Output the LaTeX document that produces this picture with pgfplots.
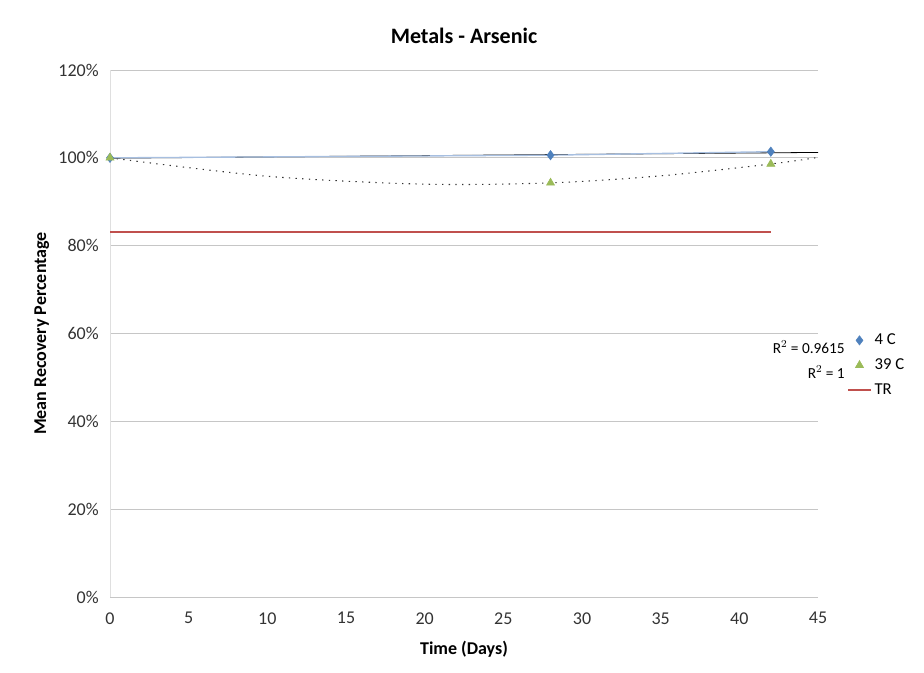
\documentclass[border=0pt]{standalone}
\usepackage{pgfplots}
\pgfplotsset{compat=1.18}
\usepackage{fontspec}
\setmainfont{Carlito}
\definecolor{cblue}{HTML}{4F81BD}
\definecolor{clblue}{HTML}{A7BFE0}
\definecolor{cgreen}{HTML}{9BBB59}
\definecolor{cred}{HTML}{C0504D}
\begin{document}
\begin{tikzpicture}[x=1pt,y=1pt]
\path (0,0) rectangle (693,504);
\begin{axis}[
  at={(82.5pt,56.25pt)}, anchor=south west,
  scale only axis, width=531pt, height=395.25pt,
  xmin=0, xmax=45, ymin=0, ymax=120,
  xtick={0,5,...,45}, ytick={0,20,...,120},
  yticklabel={\pgfmathprintnumber{\tick}\%},
  /pgf/number format/assume math mode=true,
  ymajorgrids, grid style={gray!45, line width=0.5pt},
  axis x line*=bottom, axis y line*=left,
  axis line style={gray!25},
  x axis line style={draw=none},
  tick style={draw=none},
  tick label style={font=\fontsize{13.5}{15}\selectfont, text=black!80},
  xticklabel style={yshift=-8pt},
  yticklabel style={xshift=-5pt},
  title={\textbf{Metals - Arsenic}},
  title style={font=\fontsize{16.5}{19}\selectfont, yshift=10pt},
  xlabel={\textbf{Time (Days)}},
  ylabel={\textbf{Mean Recovery Percentage}},
  label style={font=\fontsize{13.5}{15}\selectfont},
  xlabel style={yshift=-6pt},
  ylabel style={yshift=0pt},
  clip=false,
  legend style={at={(1.035,0.44)}, anchor=west, draw=none, fill=none,
    font=\fontsize{12.5}{14}\selectfont, row sep=5pt,
    /tikz/every even column/.append style={column sep=2pt}},
  legend cell align=left,
]
% trendlines
\addplot[black, line width=0.6pt, forget plot] coordinates {(0,99.92) (45,101.23)};
\addplot[black!80, dash pattern=on 1pt off 4pt, line width=0.8pt, smooth, forget plot] coordinates {
 (0,100) (10,95.8) (20,94.0) (28,94.3) (35,95.9) (42,98.6) (45,100.1)};
% 4C connecting line
\addplot[clblue, line width=1pt, forget plot] coordinates {(0,100) (28,100.6) (42,101.4)};
\addplot[only marks, mark=diamond*, mark size=3.5pt, color=cblue] coordinates {(0,100) (28,100.6) (42,101.4)};
\addlegendentry{4 C}
\addplot[only marks, mark=triangle*, mark size=3.5pt, color=cgreen] coordinates {(0,100) (28,94.3) (42,98.6)};
\addlegendentry{39 C}
\addplot[cred, line width=1.6pt] coordinates {(0,83.1) (42,83.1)};
\addlegendentry{TR}
\node[anchor=east, font=\fontsize{11.5}{13}\selectfont] at (axis cs:47.0,56.9) {R$^2$ = 0.9615};
\node[anchor=east, font=\fontsize{11.5}{13}\selectfont] at (axis cs:47.0,51.2) {R$^2$ = 1};
\end{axis}
\end{tikzpicture}
\end{document}
